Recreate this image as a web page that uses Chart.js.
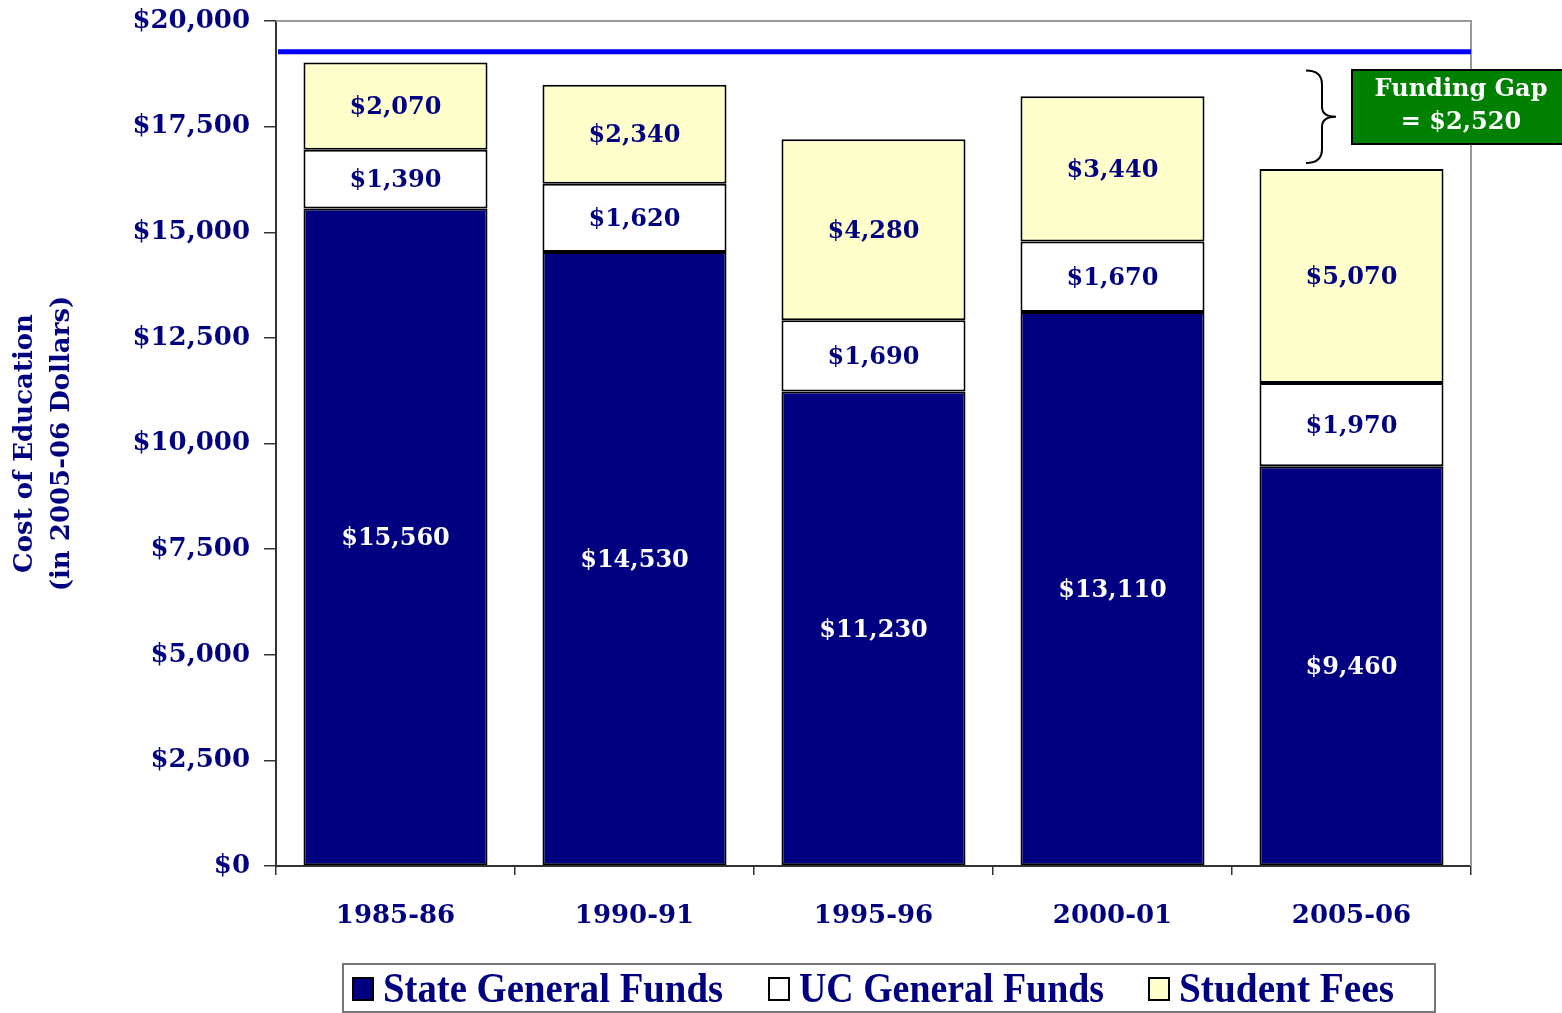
<!DOCTYPE html>
<html>
<head>
<meta charset="utf-8">
<script src="https://cdn.jsdelivr.net/npm/chart.js@4"></script>
<style>
  html, body { margin: 0; padding: 0; background: #fff; }
  #wrap { width: 1562px; height: 1013px; }
</style>
</head>
<body>
<div id="wrap"><canvas id="chart1" width="1562" height="1013"></canvas></div>
<script>
// Cost of education per student, 2005-06 dollars
const categories = ['1985-86', '1990-91', '1995-96', '2000-01', '2005-06'];
const stateFunds = [15560, 14530, 11230, 13110, 9460];
const ucFunds = [1390, 1620, 1690, 1670, 1970];
const studentFees = [2070, 2340, 4280, 3440, 5070];
const targetLevel = 19270;      // blue reference line
const gapTop = 19020;           // 1985-86 total
const gapBottom = 16500;        // 2005-06 total
const gapText = ['Funding Gap', '= $2,520'];
const yTitle = ['Cost of Education', '(in 2005-06 Dollars)'];

const NAVY = '#000080';
const FONT = '"DejaVu Serif", serif';
const money = v => '$' + v.toLocaleString('en-US');

// labels inside each bar segment
const segmentLabels = {
  id: 'segmentLabels',
  afterDatasetsDraw(chart) {
    const ctx = chart.ctx;
    ctx.save();
    ctx.font = 'bold 24px ' + FONT;
    ctx.textAlign = 'center';
    ctx.textBaseline = 'middle';
    chart.data.datasets.forEach((ds, i) => {
      chart.getDatasetMeta(i).data.forEach((bar, j) => {
        const p = bar.getProps(['x', 'y', 'base'], true);
        ctx.fillStyle = i === 0 ? '#ffffff' : NAVY;
        ctx.fillText(money(ds.data[j]), p.x, (p.y + p.base) / 2 + 2);
      });
    });
    ctx.restore();
  }
};

// frame, reference line, brace + funding gap box, y title, legend
const extras = {
  id: 'extras',
  beforeDatasetsDraw(chart) {
    const { ctx, chartArea: a } = chart;
    ctx.save();
    ctx.strokeStyle = '#999999';
    ctx.lineWidth = 2;
    ctx.beginPath();
    ctx.moveTo(a.left, a.top);
    ctx.lineTo(a.right, a.top);
    ctx.lineTo(a.right, a.bottom);
    ctx.stroke();
    ctx.restore();
  },
  afterDraw(chart) {
    const { ctx, chartArea: a, scales } = chart;
    const y = scales.y;
    ctx.save();

    // blue line
    const ly = y.getPixelForValue(targetLevel);
    ctx.strokeStyle = '#0000ff';
    ctx.lineWidth = 5;
    ctx.beginPath();
    ctx.moveTo(a.left + 2, ly);
    ctx.lineTo(a.right, ly);
    ctx.stroke();

    // brace
    const t = y.getPixelForValue(gapTop) + 8;
    const b = y.getPixelForValue(gapBottom) - 6;
    const m = (t + b) / 2;
    const x0 = 1306, x1 = 1322, x2 = 1336;
    ctx.strokeStyle = '#000';
    ctx.lineWidth = 2;
    ctx.beginPath();
    ctx.moveTo(x0, t);
    ctx.quadraticCurveTo(x1, t, x1, t + 14);
    ctx.lineTo(x1, m - 10);
    ctx.quadraticCurveTo(x1, m, x2, m);
    ctx.quadraticCurveTo(x1, m, x1, m + 10);
    ctx.lineTo(x1, b - 14);
    ctx.quadraticCurveTo(x1, b, x0, b);
    ctx.stroke();

    // green box
    ctx.fillStyle = '#008000';
    ctx.fillRect(1352, 70, 212, 74);
    ctx.strokeStyle = '#000';
    ctx.lineWidth = 2;
    ctx.strokeRect(1352, 70, 212, 74);
    ctx.fillStyle = '#fff';
    ctx.font = 'bold 24px ' + FONT;
    ctx.textAlign = 'center';
    ctx.textBaseline = 'middle';
    ctx.fillText(gapText[0], 1461, 90);
    ctx.fillText(gapText[1], 1461, 123);

    // y axis title
    ctx.save();
    ctx.translate(25, (a.top + a.bottom) / 2);
    ctx.rotate(-Math.PI / 2);
    ctx.fillStyle = NAVY;
    ctx.font = 'bold 26px ' + FONT;
    ctx.fillText(yTitle[0], 0, 0);
    ctx.fillText(yTitle[1], 0, 37);
    ctx.restore();

    // legend
    const lx = 343, lt = 964, lw = 1092, lh = 48;
    ctx.strokeStyle = '#777';
    ctx.lineWidth = 2;
    ctx.strokeRect(lx, lt, lw, lh);
    ctx.font = 'bold 42px "Liberation Serif", serif';
    ctx.textAlign = 'left';
    ctx.textBaseline = 'middle';
    const starts = [353, 769, 1149];
    const ends = [723, 1104, 1394];
    chart.data.datasets.forEach((ds, i) => {
      const px = starts[i];
      ctx.fillStyle = ds.backgroundColor;
      ctx.fillRect(px, 978, 20, 22);
      ctx.strokeStyle = '#000';
      ctx.lineWidth = 2;
      ctx.strokeRect(px, 978, 20, 22);
      // squeeze text to the condensed look of the original legend
      const w = ctx.measureText(ds.label).width;
      const sx = (ends[i] - px - 30) / w;
      ctx.save();
      ctx.translate(px + 30, 990);
      ctx.scale(sx, 1);
      ctx.fillStyle = NAVY;
      ctx.fillText(ds.label, 0, 1);
      ctx.restore();
    });
    ctx.restore();
  }
};

const ctx = document.getElementById('chart1').getContext('2d');
new Chart(ctx, {
  type: 'bar',
  data: {
    labels: categories,
    datasets: [
      { label: 'State General Funds', data: stateFunds, backgroundColor: NAVY },
      { label: 'UC General Funds', data: ucFunds, backgroundColor: '#ffffff' },
      { label: 'Student Fees', data: studentFees, backgroundColor: '#ffffcc' }
    ].map(d => Object.assign(d, {
      borderColor: '#000',
      borderWidth: 2,
      borderSkipped: false,
      barPercentage: 0.77,
      categoryPercentage: 1
    }))
  },
  options: {
    responsive: false,
    animation: false,
    layout: { padding: { top: 21, right: 91, left: 0, bottom: 0 } },
    plugins: {
      legend: { display: false },
      tooltip: { enabled: false }
    },
    scales: {
      x: {
        stacked: true,
        afterFit: s => { s.height = 147; s.paddingLeft = 0; s.paddingRight = 0; },
        grid: { drawOnChartArea: false, tickLength: 9, color: '#333', lineWidth: 1.5 },
        border: { color: '#333', width: 2 },
        ticks: { color: NAVY, padding: 26, font: { family: FONT, size: 26, weight: 'bold' } }
      },
      y: {
        stacked: true,
        min: 0,
        max: 20000,
        afterFit: s => { s.width = 276; s.paddingTop = 0; s.paddingBottom = 0; },
        grid: { drawOnChartArea: false, tickLength: 12, color: '#333', lineWidth: 1.5 },
        border: { color: '#333', width: 2 },
        ticks: {
          stepSize: 2500,
          color: NAVY,
          padding: 14,
          font: { family: FONT, size: 26, weight: 'bold' },
          callback: v => money(v)
        }
      }
    }
  },
  plugins: [segmentLabels, extras]
});
</script>
</body>
</html>
